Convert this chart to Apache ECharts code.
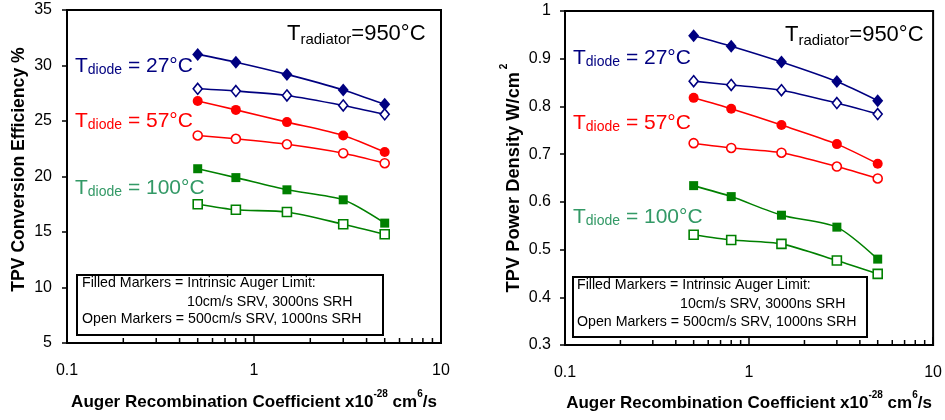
<!DOCTYPE html>
<html><head><meta charset="utf-8">
<script src="https://cdn.jsdelivr.net/npm/echarts@6/dist/echarts.min.js"></script>
<style>html,body{margin:0;padding:0;background:#fff}#c{width:945px;height:420px}</style>
</head><body><div id="c"></div>
<script>
// ---- data ----
const auger = [0.5, 0.8, 1.5, 3, 5];
const effFilled27  = [31.0, 30.3, 29.2, 27.8, 26.5];
const effOpen27    = [27.9, 27.7, 27.3, 26.4, 25.6];
const effFilled57  = [26.8, 26.0, 24.9, 23.7, 22.2];
const effOpen57    = [23.7, 23.4, 22.9, 22.1, 21.2];
const effFilled100 = [20.7, 19.9, 18.8, 17.9, 15.8];
const effOpen100   = [17.5, 17.0, 16.8, 15.7, 14.8];
const pdFilled27   = [0.948, 0.926, 0.893, 0.852, 0.812];
const pdOpen27     = [0.853, 0.845, 0.834, 0.807, 0.784];
const pdFilled57   = [0.818, 0.795, 0.761, 0.721, 0.680];
const pdOpen57     = [0.723, 0.713, 0.703, 0.674, 0.649];
const pdFilled100  = [0.634, 0.611, 0.572, 0.547, 0.480];
const pdOpen100    = [0.531, 0.520, 0.512, 0.477, 0.449];
const minorTickValues = [0.2,0.3,0.4,0.5,0.6,0.7,0.8,0.9,2,3,4,5,6,7,8,9];
const xTickLabels = ['0.1','1','10'];

// ---- style ----
const NAVY = '#000080', RED = '#ff0000', GREEN = '#008000';
const FONT = '"Liberation Sans", Arial, sans-serif';

function pts(vals){ return auger.map((x,i)=>[x, vals[i]]); }
function filledSeries(vals, color, symbol, size, gi){
  return {type:'line', xAxisIndex:gi, yAxisIndex:gi, data:pts(vals), smooth:0.25,
    symbol:symbol, symbolSize:size, showSymbol:true, z:3,
    lineStyle:{color:color, width:1.6}, itemStyle:{color:color}};
}
function openSeries(vals, color, symbol, size, gi){
  return {type:'line', xAxisIndex:gi, yAxisIndex:gi, data:pts(vals), smooth:0.25,
    symbol:symbol, symbolSize:size, showSymbol:true, z:3,
    lineStyle:{color:color, width:1.6}, itemStyle:{color:'#fff', borderColor:color, borderWidth:1.6}};
}
function minorTicks(gi, ymin){
  return {type:'custom', xAxisIndex:gi, yAxisIndex:gi, silent:true, clip:false, z:5,
    data:minorTickValues.map(v=>[v, ymin]),
    renderItem:(p, api)=>{ const c = api.coord([api.value(0), api.value(1)]);
      return {type:'line', shape:{x1:c[0], y1:c[1], x2:c[0], y2:c[1]-5}, style:{stroke:'#000', lineWidth:1.5}}; }};
}
const xAxisBase = (gi, gap)=>({
  type:'log', logBase:10, min:0.1, max:10, gridIndex:gi,
  name:'{m|Auger Recombination Coefficient x10}{s|-28}{m| cm}{s|6}{m|/s}',
  nameLocation:'middle', nameGap:gap,
  nameTextStyle:{rich:{
    m:{fontFamily:FONT, fontSize:17, fontWeight:'bold', color:'#000', lineHeight:22, verticalAlign:'bottom'},
    s:{fontFamily:FONT, fontSize:10, fontWeight:'bold', color:'#000', lineHeight:10, verticalAlign:'top'}}},
  axisLine:{show:true, lineStyle:{color:'#000', width:2}},
  axisTick:{show:true, inside:true, length:8, lineStyle:{color:'#000', width:1.5}},
  axisLabel:{fontFamily:FONT, fontSize:16, color:'#000', margin:20,
    formatter:(v)=>{ const s = String(+v.toPrecision(3)); return xTickLabels.includes(s) ? s : ''; }},
  splitLine:{show:false}, minorTick:{show:false}
});

const option = {
  animation:false,
  backgroundColor:'#fff',
  grid:[
    {left:67, right:504, top:10, bottom:77, show:true, borderColor:'#000', borderWidth:2, backgroundColor:'transparent'},
    {left:565, right:10, top:11, bottom:75, show:true, borderColor:'#000', borderWidth:2, backgroundColor:'transparent'}
  ],
  xAxis:[xAxisBase(0, 46), xAxisBase(1, 45)],
  yAxis:[
    {type:'value', gridIndex:0, min:5, max:35, interval:5,
     name:'TPV Conversion Efficiency %', nameLocation:'middle', nameGap:35,
     nameTextStyle:{fontFamily:FONT, fontSize:17.6, fontWeight:'bold', color:'#000', lineHeight:22, padding:[0,0,0,14]},
     axisLine:{show:true, lineStyle:{color:'#000', width:2}},
     axisTick:{show:true, inside:false, length:5, lineStyle:{color:'#000', width:1.5}},
     axisLabel:{fontFamily:FONT, fontSize:16, color:'#000', margin:15},
     splitLine:{show:false}},
    {type:'value', gridIndex:1, min:0.3, max:1, interval:0.1,
     name:'{m|TPV Power Density W/cm}{s| 2}', nameLocation:'middle', nameGap:42,
     nameTextStyle:{rich:{
       m:{fontFamily:FONT, fontSize:18.3, fontWeight:'bold', color:'#000', lineHeight:24, verticalAlign:'bottom'},
       s:{fontFamily:FONT, fontSize:10, fontWeight:'bold', color:'#000', lineHeight:10, verticalAlign:'top'}}},
     axisLine:{show:true, lineStyle:{color:'#000', width:2}},
     axisTick:{show:true, inside:false, length:5, lineStyle:{color:'#000', width:1.5}},
     axisLabel:{fontFamily:FONT, fontSize:16, color:'#000', margin:14, formatter:(v)=>String(+v.toFixed(1))},
     splitLine:{show:false}}
  ],
  series:[
    filledSeries(effFilled27, NAVY, 'diamond', [11,13], 0),
    openSeries(effOpen27, NAVY, 'diamond', [9,11], 0),
    filledSeries(effFilled57, RED, 'circle', 10, 0),
    openSeries(effOpen57, RED, 'circle', 9, 0),
    filledSeries(effFilled100, GREEN, 'rect', 9, 0),
    openSeries(effOpen100, GREEN, 'rect', 9, 0),
    minorTicks(0, 5),
    filledSeries(pdFilled27, NAVY, 'diamond', [11,13], 1),
    openSeries(pdOpen27, NAVY, 'diamond', [9,11], 1),
    filledSeries(pdFilled57, RED, 'circle', 10, 1),
    openSeries(pdOpen57, RED, 'circle', 9, 1),
    filledSeries(pdFilled100, GREEN, 'rect', 9, 1),
    openSeries(pdOpen100, GREEN, 'rect', 9, 1),
    minorTicks(1, 0.3)
  ],
  graphic:[]
};

// annotations
function tLabel(x, y, sub, rest, color, big){
  const fs = big ? 22 : 21, ss = big ? 15 : 14;
  return {type:'text', left:x, top:y, z:10, style:{
    text:'{t|T}{s|'+sub+'}{t|'+rest+'}', fill:color,
    rich:{t:{fontFamily:FONT, fontSize:fs, fill:color, lineHeight:24, verticalAlign:'bottom'},
          s:{fontFamily:FONT, fontSize:ss, fill:color, lineHeight:14, verticalAlign:'bottom', padding: big ? [0,0,-2,0] : 0}}}};
}
function noteBox(x, y, w, h, tx, ty, indent){
  const ts = {fontFamily:FONT, fontSize:14.2, fill:'#000'};
  return [
    {type:'rect', shape:{x:x, y:y, width:w, height:h}, z:8, style:{fill:'#fff', stroke:'#000', lineWidth:2}},
    {type:'text', x:tx, y:ty, z:9, style:Object.assign({text:'Filled Markers = Intrinsic Auger Limit:', textVerticalAlign:'middle'}, ts)},
    {type:'text', x:indent, y:ty+19, z:9, style:Object.assign({text:'10cm/s SRV, 3000ns SRH', textVerticalAlign:'middle'}, ts)},
    {type:'text', x:tx, y:ty+36.5, z:9, style:Object.assign({text:'Open Markers = 500cm/s SRV, 1000ns SRH', textVerticalAlign:'middle'}, ts)}
  ];
}
option.graphic = [
  tLabel(287, 23, 'radiator', '=950°C', '#000', true),
  tLabel(75, 56, 'diode', ' = 27°C', NAVY),
  tLabel(75, 111, 'diode', ' = 57°C', RED),
  tLabel(75, 178, 'diode', ' = 100°C', '#339966'),
  tLabel(785, 24, 'radiator', '=950°C', '#000', true),
  tLabel(573, 48, 'diode', ' = 27°C', NAVY),
  tLabel(573, 113, 'diode', ' = 57°C', RED),
  tLabel(573, 207, 'diode', ' = 100°C', '#339966'),
  ...noteBox(77, 275, 306, 60, 82, 283, 187),
  ...noteBox(573, 277, 294, 60, 577, 285.5, 680)
];

const chart = echarts.init(document.getElementById('c'), null, {renderer:'canvas'});
chart.setOption(option);
</script></body></html>
